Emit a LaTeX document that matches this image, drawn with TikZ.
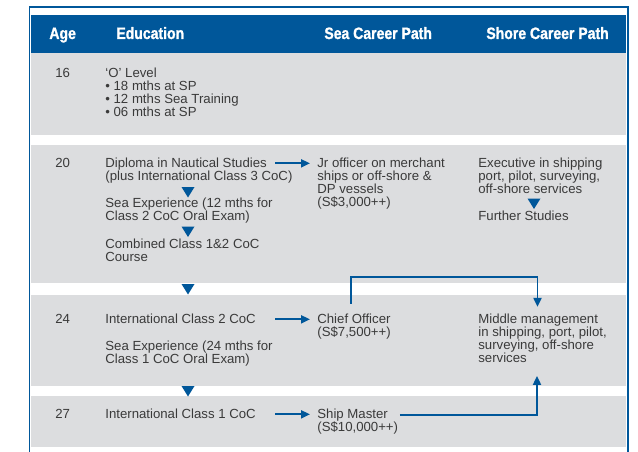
\documentclass[tikz,border=0pt]{standalone}
\usepackage{fontspec}
\setmainfont{Liberation Sans}
\newfontfamily\headfont{Liberation Sans}[FakeStretch=0.85,FakeBold=1.2]
\usetikzlibrary{calc,arrows.meta}
\definecolor{navy}{HTML}{00579A}
\definecolor{rowgray}{HTML}{DCDDDF}
\definecolor{txtgray}{HTML}{3A3A3A}
\tikzset{every picture/.style={line width=0.75pt}}
\tikzset{
  txt/.style={anchor=north west, inner sep=0pt, align=left, text=txtgray,
    font=\fontsize{13.2}{13}\selectfont, execute at begin node=\strut},
  head/.style={anchor=base west, inner sep=0pt, text=white,
    font=\headfont\bfseries\fontsize{16.5}{18}\selectfont},
  arr/.style={draw=navy, line width=1.9pt, -{Triangle[length=9pt,width=8pt]}}
}
% downward marker: centre x, top y
\newcommand{\downtri}[2]{\fill [navy] (#1-6.5,#2) -- (#1+6.5,#2) -- (#1,#2+10.5) -- cycle ;}

\begin{document}
\begin{tikzpicture}[x=1pt,y=1pt,yscale=-1]
\useasboundingbox (0,0) rectangle (638,452);

%Shape: Frame
\draw [navy, line width=1.5pt] (29.5,452) -- (29.5,7) -- (628,7) -- (628,452) ;
%Shape: Header band
\fill [navy] (31,15) rectangle (626,53) ;
%Shape: Row bands
\fill [rowgray] (31,53) rectangle (626,135) ;
\fill [rowgray] (31,145) rectangle (626,283) ;
\fill [rowgray] (31,295) rectangle (626,386) ;
\fill [rowgray] (31,396) rectangle (626,447) ;

% Header Text
\draw (49,39) node [head] (hage) {Age};
\draw (116,39) node [head] (hedu) {Education};
\draw (324,39) node [head] (hsea) {Sea Career Path};
\draw (486,39) node [head] (hshore) {Shore Career Path};

% Text Node: ages
\draw (55,67.9) node [txt] (age16) {16};
\draw (55,157.9) node [txt] (age20) {20};
\draw (55,313.9) node [txt] (age24) {24};
\draw (55,408.9) node [txt] (age27) {27};

% Text Node: education
\draw (105,67.9) node [txt] (olevel) {‘O’ Level\\• 18 mths at SP\\• 12 mths Sea Training\\• 06 mths at SP};
\draw (105,157.9) node [txt] (dip) {Diploma in Nautical Studies};
\draw (105,170.9) node [txt] (dipb) {(plus International Class 3 CoC)};
\draw (105,197.9) node [txt] (seaexp) {Sea Experience (12 mths for\\Class 2 CoC Oral Exam)};
\draw (105,238.9) node [txt] (comb) {Combined Class 1\&2 CoC\\Course};
\draw (105,313.9) node [txt] (icc2) {International Class 2 CoC};
\draw (105,340.9) node [txt] (seaexpb) {Sea Experience (24 mths for\\Class 1 CoC Oral Exam)};
\draw (105,408.9) node [txt] (icc1) {International Class 1 CoC};

% Text Node: sea career
\draw (317,157.9) node [txt] (jr) {Jr officer on merchant\\ships or off-shore \&\\DP vessels\\(S\$3,000++)};
\draw (317,313.9) node [txt] (chief) {Chief Officer\\(S\$7,500++)};
\draw (317,408.9) node [txt] (master) {Ship Master\\(S\$10,000++)};

% Text Node: shore career
\draw (478,157.9) node [txt] (exec) {Executive in shipping\\port, pilot, surveying,\\off-shore services};
\draw (478,210.9) node [txt] (further) {Further Studies};
\draw (478,313.9) node [txt] (middle) {Middle management\\in shipping, port, pilot,\\surveying, off-shore\\services};

% Down markers
\downtri{188}{187}
\downtri{188}{226.5}
\downtri{188}{284}
\downtri{188}{386}
\downtri{534}{198.5}

%Straight Lines: arrows
\draw [arr] ($(dip.base west)+(170,-4.5)$) -- ($(dip.base west -| jr.west)+(-7,-4.5)$) ;
\draw [arr] ($(icc2.base west)+(170,-4.5)$) -- ($(icc2.base west -| chief.west)+(-7,-4.5)$) ;
\draw [arr] ($(icc1.base west)+(170,-4.5)$) -- ($(icc1.base west -| master.west)+(-7,-4.5)$) ;
\draw [arr] ($(chief.north west)+(34,-10)$) -- ++(0,-27) -| ($(middle.north west)+(59.5,-7)$) ;
\draw [arr] ($(master.north east)+(1.5,6)$) -| ($(middle.north west)+(59,62)$) ;

\end{tikzpicture}
\end{document}
